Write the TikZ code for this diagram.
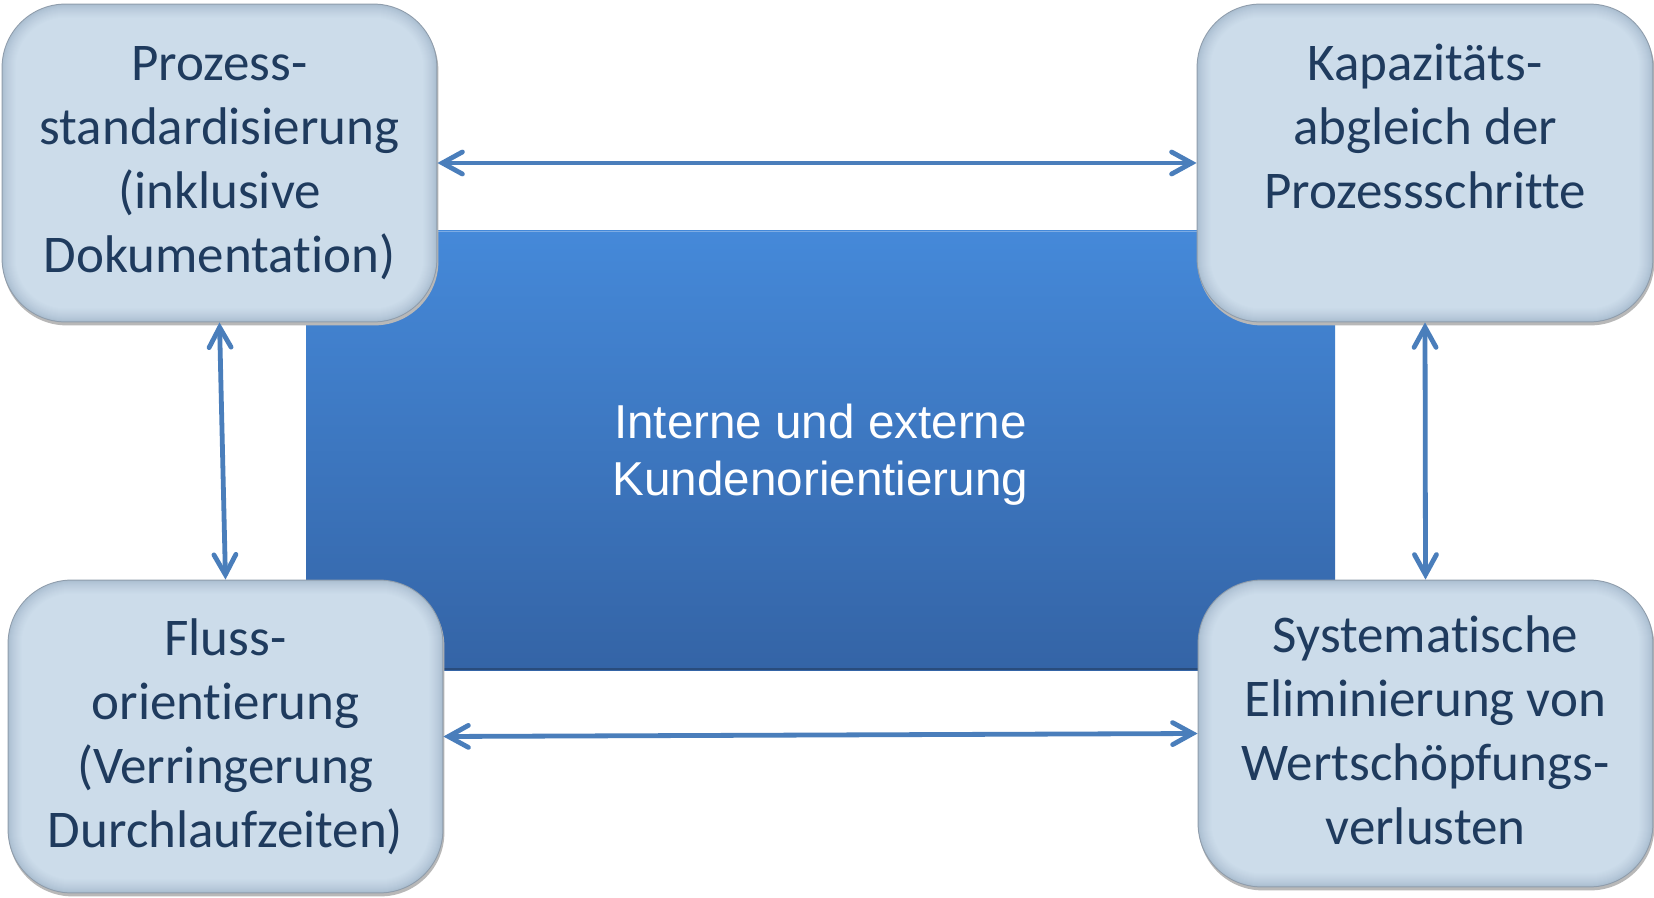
\documentclass[tikz,border=0pt]{standalone}
\usepackage{fontspec}
\setmainfont{Carlito}[Ligatures=NoCommon]
\newfontfamily\arialfont{Liberation Sans}[Ligatures=NoCommon]
\usetikzlibrary{arrows.meta}

\definecolor{boxin}{HTML}{CCDCEA}
\definecolor{boxedge}{HTML}{A3B7CB}
\definecolor{boxline}{HTML}{8E9CAB}
\definecolor{boxtext}{HTML}{1F3B5E}
\definecolor{coretop}{HTML}{4589D9}
\definecolor{corebot}{HTML}{3464A6}
\definecolor{coreedge}{HTML}{294C7C}
\definecolor{arrowblue}{HTML}{4A7EBB}

% strut that fixes the height of a label's first line
\newcommand\lead{\rule{0pt}{20pt}}

% bevelled, rounded panel drawn over the area of a frame node
\newcommand\bevelbox[1]{%
  \fill[black!28, rounded corners=32pt]
    ([shift={(1,3)}]#1.north west) rectangle ([shift={(1,3)}]#1.south east);
  \fill[boxline, rounded corners=32pt]
    (#1.north west) rectangle (#1.south east);
  \foreach \i in {1,...,14}{
    \pgfmathsetmacro\mixv{100*(\i/14)^0.6}
    \pgfmathsetmacro\rad{32-0.5*\i}
    \fill[boxin!\mixv!boxedge, rounded corners=\rad pt]
      ([shift={(\i,\i)}]#1.north west) rectangle ([shift={(-\i,-\i)}]#1.south east);
  }%
}

\tikzset{
  frame/.style={draw=none, inner sep=0pt, minimum width=#1},
  boxlabel/.style={align=center, inner sep=0pt, text=boxtext,
    font=\fontsize{26.5pt}{32pt}\selectfont},
  corelabel/.style={align=center, inner sep=0pt, text=white,
    font=\arialfont\fontsize{23.8pt}{28.5pt}\selectfont},
  barb/.tip={Straight Barb[length=10pt,width=11pt,line cap=round]},
  link/.style={draw=arrowblue, line width=2.4pt, {barb}-{barb}},
}

\begin{document}
\begin{tikzpicture}[x=0.5pt, y=-0.5pt]
\useasboundingbox (0,0) rectangle (1654,898);
\fill[white] (0,0) rectangle (1654,898);

% central block
\node[frame=514.5pt, minimum height=219.5pt, top color=coretop, bottom color=corebot]
  (core) at (820.5,450.5) {};
\draw[coreedge, line width=1.2pt] ([yshift=0.6pt]core.south west) -- ([yshift=0.6pt]core.south east);
\draw[white!30!coretop, line width=0.8pt] ([yshift=-0.4pt]core.north west) -- ([yshift=-0.4pt]core.north east);
\node[corelabel, anchor=north] (coretext) at (820.5,398)
  {\lead Interne und externe\\Kundenorientierung};

% four corner panels
\node[frame=217.5pt, minimum height=159pt]   (tl) at (219.5,163) {};
\node[frame=228pt,   minimum height=159pt]   (tr) at (1425,163) {};
\node[frame=217.5pt, minimum height=156.5pt] (bl) at (225.5,736.5) {};
\node[frame=227.5pt, minimum height=153.5pt] (br) at (1425.5,733.5) {};

\bevelbox{tl}
\bevelbox{tr}
\bevelbox{bl}
\bevelbox{br}

\node[boxlabel, anchor=north] (tltext) at (219.5,40)
  {\lead Prozess-\\standardisierung\\(inklusive\\Dokumentation)};
\node[boxlabel, anchor=north] (trtext) at (1425,40)
  {\lead Kapazitäts-\\abgleich der\\Prozessschritte};
\node[boxlabel, anchor=north] (bltext) at (225.5,615)
  {\lead Fluss-\\orientierung\\(Verringerung\\Durchlaufzeiten)};
\node[boxlabel, anchor=north] (brtext) at (1425.5,612)
  {\lead Systematische\\Eliminierung von\\Wertschöpfungs-\\verlusten};

% two-way links between the panels
\draw[link] (tl.east) -- (tr.west);
\draw[link] (bl.east) -- (br.west);
\draw[link] (tl.south) -- (bl.north);
\draw[link] (tr.south) -- (br.north);
\end{tikzpicture}
\end{document}
